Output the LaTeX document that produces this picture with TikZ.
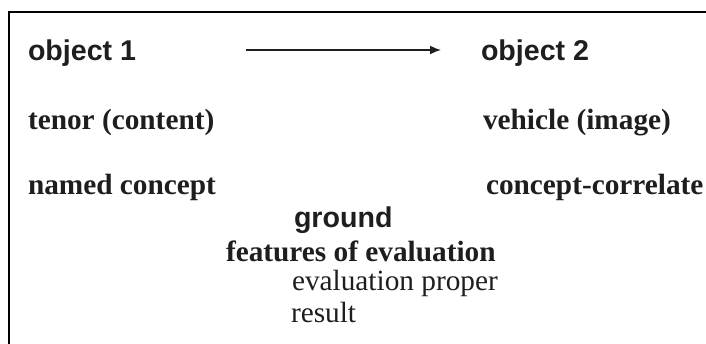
\documentclass[tikz,border=0pt]{standalone}
\usepackage{fontspec}
\setmainfont{Liberation Serif}
\newfontfamily\arialf{Liberation Sans}
\usetikzlibrary{arrows.meta}
\definecolor{ink}{HTML}{1E1E1E}
\begin{document}
\begin{tikzpicture}[x=1pt,y=-1pt,
  every node/.style={inner sep=0pt,outer sep=0pt,anchor=base west,text=ink},
  hsans/.style={font=\arialf\bfseries\fontsize{28.6}{34}\selectfont},
  hserif/.style={font=\bfseries\fontsize{29.3}{35}\selectfont},
  rserif/.style={font=\fontsize{29.3}{35}\selectfont},
  frame/.style={line width=2pt,draw=black},
  conn/.style={line width=1.6pt,draw=ink,-{Latex[length=11pt,width=9pt]}}]
\useasboundingbox (0,0) rectangle (706,344);
\draw[frame] (8.5,345) -- (8.5,12.5) -- (707,12.5);
\node[hsans] (o1) at (28,60.5) {object 1};
\node[hsans] (o2) at (481,60.5) {object 2};
\coordinate (a1) at (246,50);
\coordinate (a2) at (441,50);
\draw[conn] (a1) -- (a2);
\node[hserif] (tenor) at (28,129.5) {tenor (content)};
\node[hserif] (vehicle) at (483,129.5) {vehicle (image)};
\node[hserif] (named) at (28,194.5) {named concept};
\node[hserif] (corr) at (486,194.5) {concept-correlate};
\node[hsans] (ground) at (294,228) {ground};
\node[hserif] (feat) at (226,262) {features of evaluation};
\node[rserif] (proper) at (292,290.5) {evaluation proper};
\node[rserif] (result) at (291,322) {result};
\end{tikzpicture}
\end{document}
